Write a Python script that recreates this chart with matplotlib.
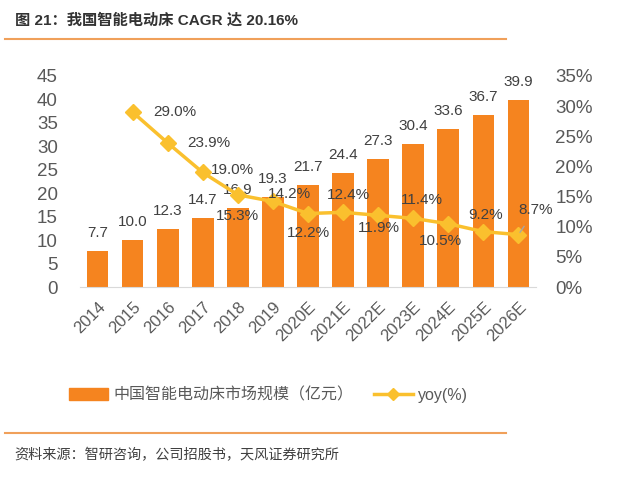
import matplotlib.pyplot as plt
from matplotlib.lines import Line2D
from matplotlib.patches import Patch

plt.rcParams['font.family'] = ['Liberation Sans', 'Noto Sans CJK SC']

years = ["2014", "2015", "2016", "2017", "2018", "2019", "2020E", "2021E",
         "2022E", "2023E", "2024E", "2025E", "2026E"]
market = [7.7, 10.0, 12.3, 14.7, 16.9, 19.3, 21.7, 24.4, 27.3, 30.4, 33.6, 36.7, 39.9]
yoy = [None, 29.0, 23.9, 19.0, 15.3, 14.2, 12.2, 12.4, 11.9, 11.4, 10.5, 9.2, 8.7]

# label offsets (pixels) for the yoy labels
yoy_off = [None, (42, 0), (41, 0), (30, 2), (0, -21), (17, 7), (0, -19),
           (5, 17), (1, -13), (9, 18), (-8, -17), (2, 17), (17, 25)]

bar_c = "#F5841F"
line_c = "#FAC02E"
txt_c = "#404040"
tick_c = "#595959"

fig = plt.figure(figsize=(6.4, 4.9), dpi=100)
ax = fig.add_axes([0.125, 0.414, 0.7125, 0.431])
ax2 = ax.twinx()

x = list(range(len(years)))
ax.bar(x, market, width=0.62, color=bar_c, zorder=2)
for i, v in enumerate(market):
    ax.annotate("%.1f" % v, (i, v), xytext=(0, 11), textcoords="offset pixels",
                ha="center", va="bottom", fontsize=11, color=txt_c)

xs = x[1:]
ys = yoy[1:]
ax2.plot(xs, ys, color=line_c, lw=2.5, marker="D", ms=8, zorder=3)
for i in xs:
    dx, dy = yoy_off[i]
    if i == 12:
        ax2.annotate("%.1f%%" % yoy[i], (i, yoy[i]), xytext=(dx, dy),
                     textcoords="offset pixels", ha="center", va="center",
                     fontsize=11, color=txt_c,
                     arrowprops=dict(arrowstyle="-", color="#A6A6A6", lw=1,
                                     shrinkA=6, shrinkB=2))
    else:
        ax2.annotate("%.1f%%" % yoy[i], (i, yoy[i]), xytext=(dx, dy),
                     textcoords="offset pixels", ha="center", va="center",
                     fontsize=11, color=txt_c)

ax.set_xlim(-0.5, 12.5)
ax.set_ylim(0, 45)
ax.set_yticks(range(0, 50, 5))
ax2.set_ylim(0, 35)
ax2.set_yticks(range(0, 40, 5))
ax2.set_yticklabels(["%d%%" % t for t in range(0, 40, 5)])
ax.set_xticks(x)
ax.set_xticklabels(years, rotation=45, ha="right", rotation_mode="anchor")

for a in (ax, ax2):
    for s in ("top", "left", "right", "bottom"):
        a.spines[s].set_visible(False)
    a.tick_params(length=0, colors=tick_c, labelsize=13.5)
ax.spines["bottom"].set_visible(True)
ax.spines["bottom"].set_color("#D9D9D9")
ax.tick_params(axis="x", labelsize=12, pad=9)
ax.tick_params(axis="y", pad=16)
ax2.tick_params(axis="y", pad=14)

handles = [Patch(color=bar_c, label="中国智能电动床市场规模（亿元）"),
           Line2D([0], [0], color=line_c, lw=2.5, marker="D", ms=6, label="yoy(%)")]
fig.legend(handles=handles, loc="center", bbox_to_anchor=(0.42, 0.194), ncol=2,
           frameon=False, fontsize=11.5, handlelength=2.4, columnspacing=1.3,
           handletextpad=0.35, labelcolor=tick_c)

fig.text(0.023, 0.958, "图 21：我国智能电动床 CAGR 达 20.16%", fontsize=11,
         fontweight="bold", color="#333333", va="center")
fig.add_artist(Line2D([0.008, 0.79], [0.920, 0.920], color="#F0A05A", lw=1.5))
fig.add_artist(Line2D([0.008, 0.79], [0.116, 0.116], color="#F0A05A", lw=1.5))
fig.text(0.023, 0.072, "资料来源：智研咨询，公司招股书，天风证券研究所", fontsize=10.2,
         color="#404040", va="center")

fig.savefig("out.png", dpi=100)
